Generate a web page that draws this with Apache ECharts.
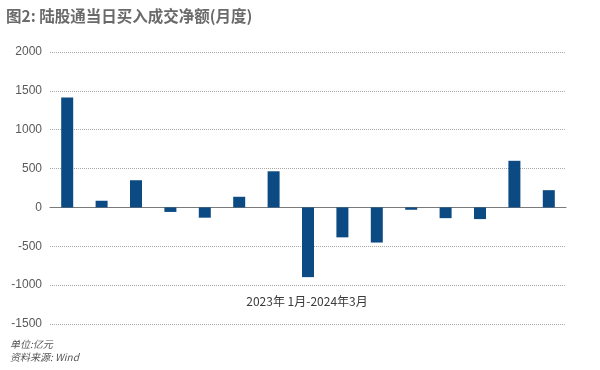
<!DOCTYPE html>
<html>
<head>
<meta charset="utf-8">
<script src="https://cdn.jsdelivr.net/npm/echarts@6/dist/echarts.min.js"></script>
<style>
html,body{margin:0;padding:0;background:#fff;}
#c{width:600px;height:370px;}
</style>
</head>
<body>
<div id="c"></div>
<script>
const categories = ['2023-01','2023-02','2023-03','2023-04','2023-05','2023-06','2023-07','2023-08','2023-09','2023-10','2023-11','2023-12','2024-01','2024-02','2024-03'];
const netBuy = [1413, 86, 350, -58, -132, 137, 465, -897, -385, -452, -30, -138, -150, 600, 222];
const yTicks = [-1500, -1000, -500, 0, 500, 1000, 1500, 2000];
const titleText = '图2: 陆股通当日买入成交净额(月度)';
const axisNameText = '2023年 1月-2024年3月';
const noteLines = ['单位:亿元', '资料来源: Wind'];

const chart = echarts.init(document.getElementById('c'), null, {renderer:'canvas'});
chart.setOption({
  animation: false,
  backgroundColor: '#fff',
  title: {
    text: titleText,
    left: 1, top: 3,
    textStyle: {fontFamily: 'Noto Sans CJK SC', fontSize: 15.5, fontWeight: 'bold', color: '#6a6a6a'}
  },
  grid: {left: 50, right: 34, top: 52, height: 272},
  xAxis: {
    type: 'category',
    data: categories,
    axisLine: {show: true, onZero: true, lineStyle: {color: '#7a7a7a', width: 1}},
    axisTick: {show: false},
    axisLabel: {show: false},
    splitLine: {show: false}
  },
  yAxis: {
    type: 'value',
    min: yTicks[0], max: yTicks[yTicks.length-1], interval: 500,
    axisLine: {show: false},
    axisTick: {show: false},
    axisLabel: {color: '#595959', fontSize: 12, fontFamily: 'Liberation Sans', margin: 8, formatter: v => String(v)},
    splitLine: {show: true, lineStyle: {color: '#a8a8a8', type: 'dotted', width: 1}}
  },
  series: [{
    type: 'bar',
    data: netBuy,
    barWidth: 12,
    itemStyle: {color: '#0b4a82'}
  }],
  graphic: [
    {type: 'text', x: 307, y: 301, style: {text: axisNameText, fill: '#3a3a3a', font: '12px "Noto Sans CJK SC"', align: 'center', verticalAlign: 'middle'}},
    {type: 'text', left: 10, top: 339, style: {text: noteLines[0], fill: '#555', font: 'italic 10px "Noto Sans CJK SC"'}},
    {type: 'text', left: 10, top: 352, style: {text: noteLines[1], fill: '#555', font: 'italic 10px "Noto Sans CJK SC"'}}
  ]
});
</script>
</body>
</html>
